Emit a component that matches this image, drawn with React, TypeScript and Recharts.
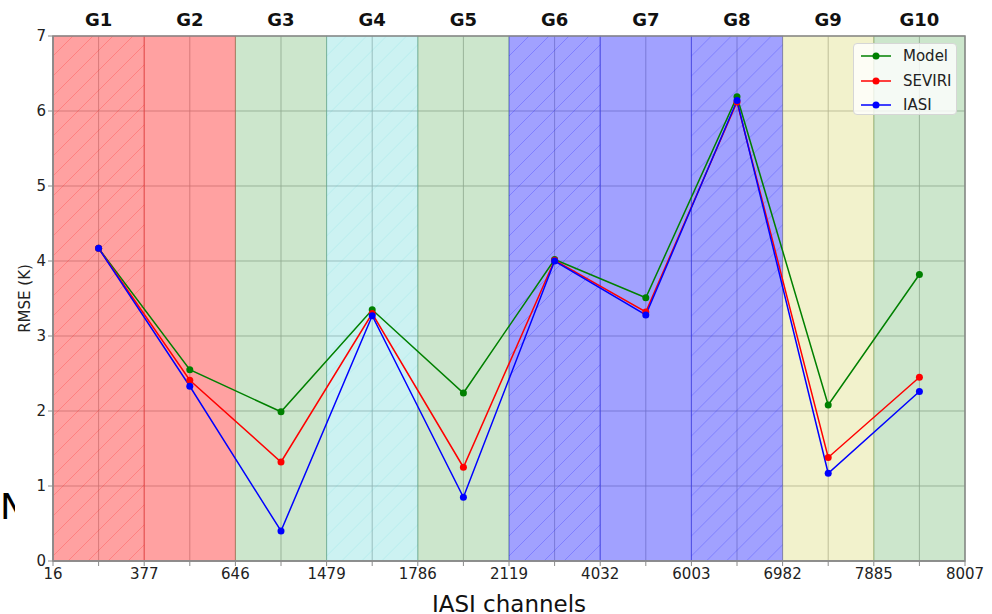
import { ComposedChart, Line, XAxis, YAxis, CartesianGrid, ReferenceArea } from 'recharts'

// band boundaries (IASI channel numbers) shown on the bottom axis
const boundaries = ['16', '377', '646', '1479', '1786', '2119', '4032', '6003', '6982', '7885', '8007']
const groups = ['G1', 'G2', 'G3', 'G4', 'G5', 'G6', 'G7', 'G8', 'G9', 'G10']

const model = [4.17, 2.55, 1.99, 3.35, 2.24, 4.02, 3.51, 6.19, 2.08, 3.82]
const seviri = [4.17, 2.41, 1.32, 3.30, 1.25, 4.01, 3.32, 6.12, 1.38, 2.45]
const iasi = [4.17, 2.33, 0.40, 3.27, 0.85, 4.00, 3.28, 6.14, 1.17, 2.26]

const bandColors = ['#ff0000', '#ff0000', '#008000', '#00bfbf', '#008000', '#0000ff', '#0000ff', '#0000ff', '#bfbf00', '#008000']
const bandAlpha = [0.37, 0.37, 0.2, 0.2, 0.2, 0.37, 0.37, 0.37, 0.2, 0.2]
const hatched = [true, false, false, true, false, true, false, true, false, false]

const series = [
  { key: 'model', name: 'Model', color: '#008000' },
  { key: 'seviri', name: 'SEVIRI', color: '#ff0000' },
  { key: 'iasi', name: 'IASI', color: '#0000ff' },
]

const data = groups.map((g, i) => ({ x: 2 * i + 1, model: model[i], seviri: seviri[i], iasi: iasi[i] }))
const bottomTicks = Array.from({ length: 21 }, (_, i) => i)
const topTicks = groups.map((_, i) => 2 * i + 1)

const font = '"DejaVu Sans", sans-serif'
const spine = '#8a8a8a'

function Band(props: any) {
  const { x, y, width, height, idx } = props
  const c = bandColors[idx]
  const a = bandAlpha[idx]
  const id = `hatch-${idx}`
  return (
    <g>
      {hatched[idx] && (
        <defs>
          <pattern id={id} patternUnits="userSpaceOnUse" width={20} height={20} x={x} y={y}>
            <path d="M0,20 L20,0 M-5,5 L5,-5 M15,25 L25,15" stroke={c} strokeOpacity={a * 0.55} strokeWidth={1} />
          </pattern>
        </defs>
      )}
      <rect x={x} y={y} width={width} height={height} fill={c} fillOpacity={a} stroke={c} strokeOpacity={a * 0.6} />
      {hatched[idx] && <rect x={x} y={y} width={width} height={height} fill={`url(#${id})`} />}
    </g>
  )
}

function LegendBox() {
  return (
    <div
      style={{
        position: 'absolute', left: 853, top: 43, width: 104, height: 72,
        background: 'rgba(255,255,255,0.8)', border: '1px solid #d6d6d6', borderRadius: 4,
        boxSizing: 'border-box', fontFamily: font, fontSize: 15, color: '#222',
      }}
    >
      {series.map((s, i) => (
        <div key={s.key} style={{ position: 'absolute', left: 7, top: 2 + i * 24.5, height: 20, display: 'flex', alignItems: 'center' }}>
          <svg width={30} height={10}>
            <line x1={0} y1={5} x2={30} y2={5} stroke={s.color} strokeWidth={1.5} />
            <circle cx={15} cy={5} r={3.5} fill={s.color} />
          </svg>
          <span style={{ marginLeft: 12 }}>{s.name}</span>
        </div>
      ))}
    </div>
  )
}

export default function App() {
  return (
    <div style={{ position: 'absolute', left: 0, top: 0, width: 992, height: 614, overflow: 'hidden', background: '#fff', fontFamily: font }}>
      <ComposedChart width={992} height={614} data={data} margin={{ top: 0, right: 27, bottom: 0, left: 0 }}>
        <CartesianGrid stroke="#b0b0b0" strokeOpacity={0.8} />
        {groups.map((g, i) => (
          <ReferenceArea key={g} x1={2 * i} x2={2 * i + 2} y1={0} y2={7} shape={(p: any) => <Band {...p} idx={i} />} />
        ))}
        <ReferenceArea x1={0} x2={20} y1={0} y2={7} fill="none" stroke={spine} strokeWidth={1.5} fillOpacity={0} />
        <XAxis
          dataKey="x" type="number" domain={[0, 20]} ticks={bottomTicks} interval={0}
          tickFormatter={(v: number) => (v % 2 === 0 ? boundaries[v / 2] : '')}
          tick={{ fontSize: 15, fill: '#222', fontFamily: font }}
          tickSize={5} tickMargin={2} height={53}
          stroke={spine} axisLine={{ stroke: spine, strokeWidth: 1.5 }}
          label={{ value: 'IASI channels', position: 'insideBottom', offset: 2, fontSize: 23, fill: '#111', fontFamily: font }}
        />
        <XAxis
          xAxisId="top" dataKey="x" orientation="top" type="number" domain={[0, 20]} ticks={topTicks} interval={0}
          tickFormatter={(v: number) => groups[(v - 1) / 2]}
          tick={{ fontSize: 18, fontWeight: 'bold', fill: '#111', fontFamily: font }}
          axisLine={false} tickLine={false} tickSize={0} tickMargin={10} height={36}
        />
        <YAxis
          type="number" domain={[0, 7]} ticks={[0, 1, 2, 3, 4, 5, 6, 7]} interval={0}
          tick={{ fontSize: 15, fill: '#222', fontFamily: font }}
          tickSize={5} tickMargin={2} width={53}
          stroke={spine} axisLine={{ stroke: spine, strokeWidth: 1.5 }}
          label={{ value: 'RMSE (K)', angle: -90, position: 'center', dx: -2, fontSize: 15, fill: '#222', fontFamily: font }}
        />
        {series.map((s) => (
          <Line
            key={s.key} dataKey={s.key} name={s.name} type="linear"
            stroke={s.color} strokeWidth={1.5}
            dot={{ r: 3.5, fill: s.color, stroke: s.color, strokeWidth: 0 }}
            activeDot={false} isAnimationActive={false}
          />
        ))}
      </ComposedChart>
      <LegendBox />
      <div style={{ position: 'absolute', left: 0, top: 482, width: 15, overflow: 'hidden', fontSize: 36, lineHeight: '50px', color: '#000', fontFamily: font }}>
        N
      </div>
    </div>
  )
}
